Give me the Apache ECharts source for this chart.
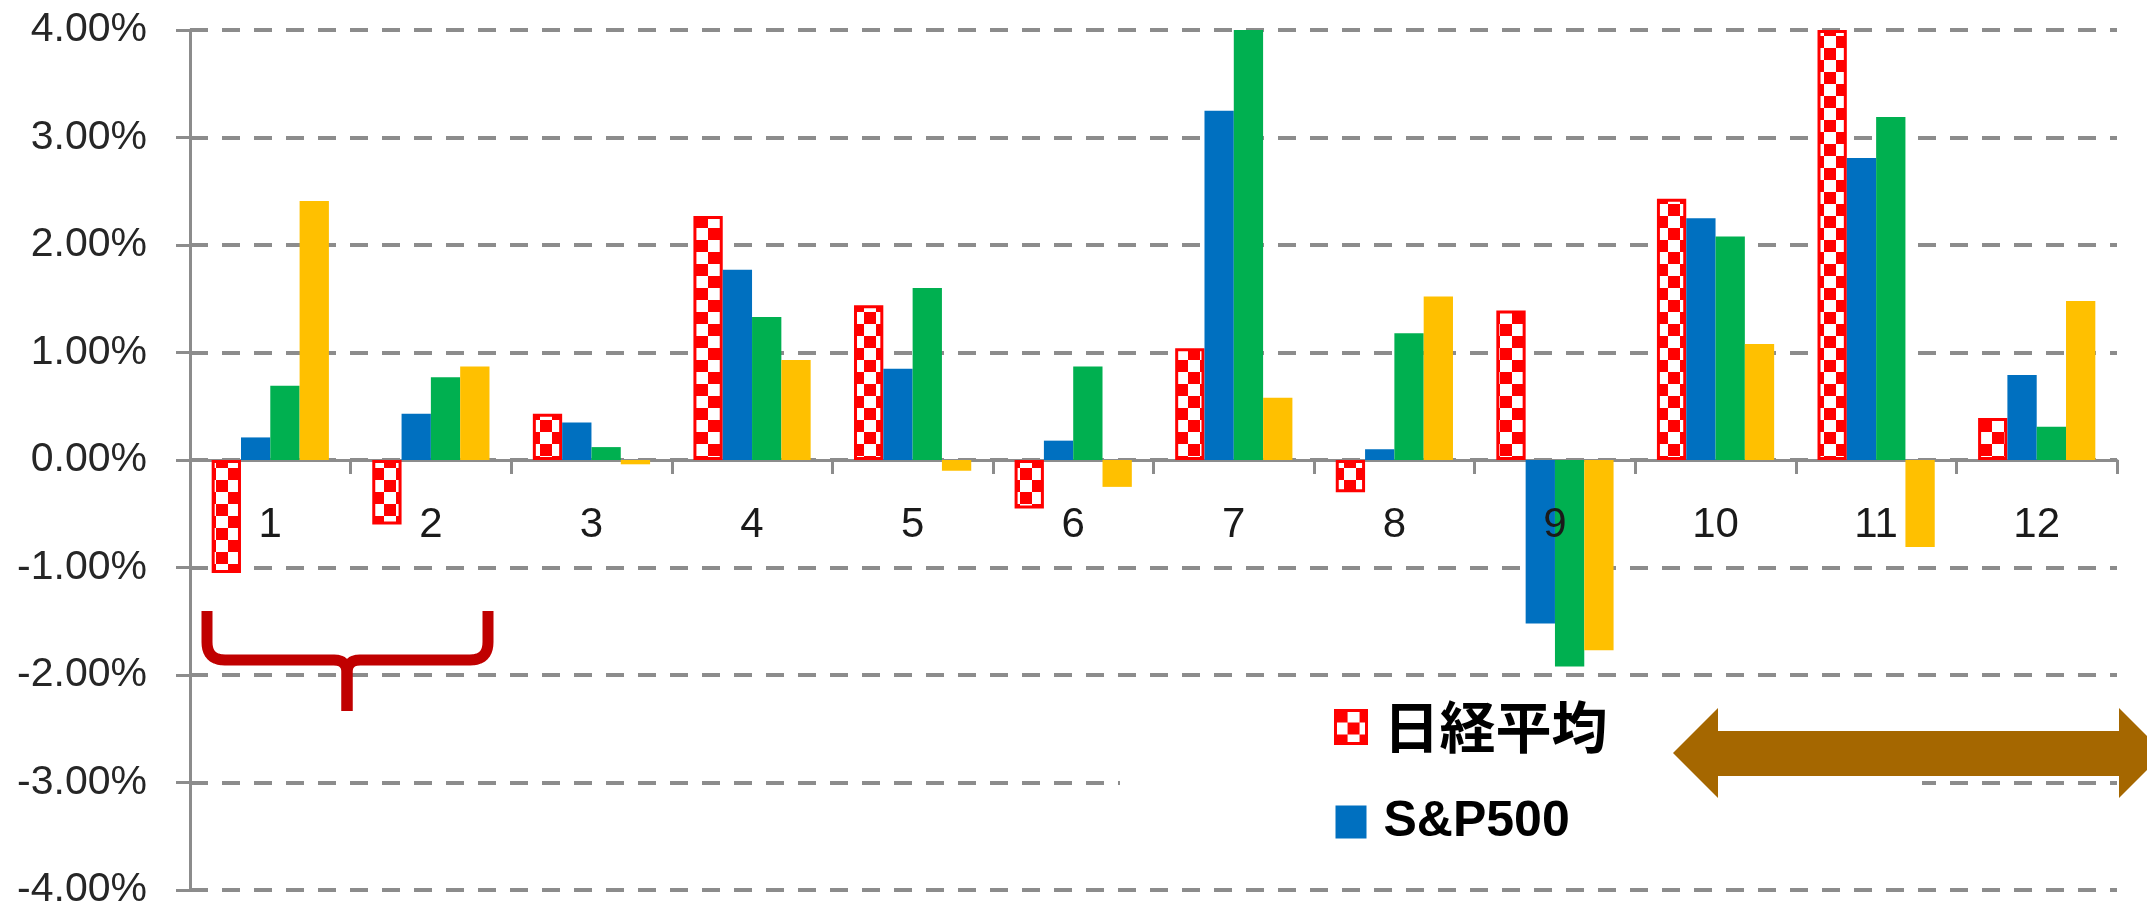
<!DOCTYPE html>
<html>
<head>
<meta charset="utf-8">
<script src="https://cdn.jsdelivr.net/npm/echarts@6/dist/echarts.min.js"></script>
<style>
html,body{margin:0;padding:0;background:#fff;}
#chart{width:2147px;height:906px;}
</style>
</head>
<body>
<div id="chart"></div>
<script>
// ---- data ----
const months = ['1','2','3','4','5','6','7','8','9','10','11','12'];
const nikkei = [-1.05, -0.60, 0.43, 2.27, 1.44, -0.45, 1.04, -0.30, 1.39, 2.43, 4.00, 0.39];
const sp500  = [0.21, 0.43, 0.35, 1.77, 0.85, 0.18, 3.25, 0.10, -1.52, 2.25, 2.81, 0.79];
const series3 = [0.69, 0.77, 0.12, 1.33, 1.60, 0.87, 4.00, 1.18, -1.92, 2.08, 3.19, 0.31];
const series4 = [2.41, 0.87, -0.04, 0.93, -0.10, -0.25, 0.58, 1.52, -1.77, 1.08, -0.81, 1.48];
const seriesNames = ['日経平均', 'S&P500', '系列3', '系列4'];
const yTicks = { min: -4, max: 4, interval: 1 };

// checker pattern
const sq = 12;
const cv = document.createElement('canvas');
cv.width = sq * 2; cv.height = sq * 2;
const cx = cv.getContext('2d');
cx.fillStyle = '#FFFFFF'; cx.fillRect(0, 0, sq * 2, sq * 2);
cx.fillStyle = '#FF0000';
cx.fillRect(0, 0, sq, sq); cx.fillRect(sq, sq, sq, sq);
const checker = { image: cv, repeat: 'repeat' };

// brace decoration (annotation shape, in pixels)
function quad(p0, p1, p2, n) {
  const out = [];
  for (let i = 0; i <= n; i++) {
    const t = i / n, u = 1 - t;
    out.push([u*u*p0[0] + 2*u*t*p1[0] + t*t*p2[0], u*u*p0[1] + 2*u*t*p1[1] + t*t*p2[1]]);
  }
  return out;
}
const braceLeft = [[207,611],[207,642]]
  .concat(quad([207,642],[207,660],[225,660],10))
  .concat([[334,660]])
  .concat(quad([334,660],[347,660],[347,673],8))
  .concat([[347,711]]);
const braceRight = [[488,611],[488,642]]
  .concat(quad([488,642],[488,660],[470,660],10))
  .concat([[360,660]])
  .concat(quad([360,660],[347,660],[347,673],8))
  .concat([[347,711]]);

const chart = echarts.init(document.getElementById('chart'));
const gridColor = '#8C8C8C';
const labelFont = '"Liberation Sans", Arial, sans-serif';

chart.setOption({
  animation: false,
  backgroundColor: '#FFFFFF',
  grid: { left: 190, right: 30, top: 30, bottom: 16, containLabel: false, outerBoundsMode: 'none' },
  legend: {
    orient: 'vertical',
    left: 1334, top: 699,
    padding: 0,
    itemGap: 42,
    itemWidth: 31, itemHeight: 33,
    icon: 'rect',
    z: 10,
    data: [
      { name: seriesNames[0], itemStyle: { color: checker, borderColor: '#FF0000', borderWidth: 3 } },
      { name: seriesNames[1] }
    ],
    formatter: function (name) {
      return name === seriesNames[0] ? '{n|' + name + '}' : '{s|' + name + '}';
    },
    textStyle: {
      rich: {
        n: { fontFamily: '"Noto Sans CJK JP"', fontWeight: 'bold', fontSize: 56, lineHeight: 58, color: '#000', padding: [0, 0, 0, 12] },
        s: { fontFamily: labelFont, fontWeight: 'bold', fontSize: 50, lineHeight: 52, color: '#000', padding: [0, 0, 0, 12] }
      }
    }
  },
  xAxis: [
    {
      type: 'category',
      data: months,
      axisLine: { show: true, onZero: true, lineStyle: { color: gridColor, width: 3 } },
      axisTick: { show: true, length: 14, interval: 0, alignWithLabel: false, lineStyle: { color: gridColor, width: 3 } },
      axisLabel: { show: false },
      splitLine: { show: false }
    },
    {
      type: 'category',
      data: months,
      position: 'bottom',
      offset: -431,
      z: 10,
      axisLine: { show: false },
      axisTick: { show: false },
      axisLabel: { margin: 45, fontSize: 42, fontFamily: labelFont, color: '#1a1a1a', interval: 0 },
      splitLine: { show: false }
    }
  ],
  yAxis: {
    type: 'value',
    min: yTicks.min, max: yTicks.max, interval: yTicks.interval,
    axisLine: { show: true, lineStyle: { color: gridColor, width: 3 } },
    axisTick: { show: true, length: 14, lineStyle: { color: gridColor, width: 3 } },
    axisLabel: {
      margin: 43, fontSize: 41, fontFamily: labelFont, color: '#262626',
      formatter: function (v) { return v.toFixed(2) + '%'; }
    },
    splitLine: { show: true, lineStyle: { color: gridColor, width: 4, type: [18, 14] } }
  },
  series: [
    { name: seriesNames[0], type: 'bar', data: nikkei, barGap: '0%', barCategoryGap: '27%',
      itemStyle: { color: checker, borderColor: '#FF0000', borderWidth: 3 } },
    { name: seriesNames[1], type: 'bar', data: sp500, barGap: '0%', barCategoryGap: '27%',
      itemStyle: { color: '#0070C0' } },
    { name: seriesNames[2], type: 'bar', data: series3, barGap: '0%', barCategoryGap: '27%',
      itemStyle: { color: '#00B050' } },
    { name: seriesNames[3], type: 'bar', data: series4, barGap: '0%', barCategoryGap: '27%',
      itemStyle: { color: '#FFC000' } }
  ],
  graphic: [
    { type: 'rect', z: 3, silent: true, shape: { x: 1120, y: 700, width: 802, height: 162 }, style: { fill: '#FFFFFF' } },
    { type: 'polygon', z: 11, silent: true,
      shape: { points: [[1673,753],[1718,708],[1718,731],[2119,731],[2119,708],[2164,753],[2119,798],[2119,776],[1718,776],[1718,798]] },
      style: { fill: '#A56700' } },
    { type: 'polyline', z: 12, silent: true, shape: { points: braceLeft },
      style: { fill: null, stroke: '#C00000', lineWidth: 11, lineJoin: 'round' } },
    { type: 'polyline', z: 12, silent: true, shape: { points: braceRight },
      style: { fill: null, stroke: '#C00000', lineWidth: 11, lineJoin: 'round' } }
  ]
});
</script>
</body>
</html>
